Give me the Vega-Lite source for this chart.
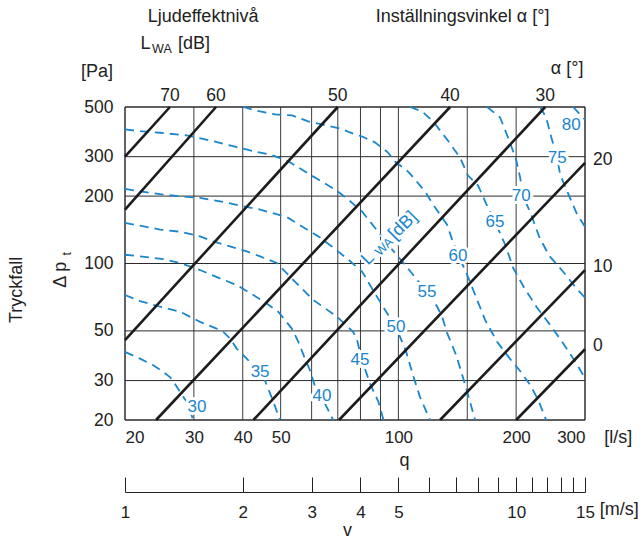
{
  "$schema": "https://vega.github.io/schema/vega-lite/v6.json",
  "width": 460,
  "height": 313,
  "autosize": {"type": "none"},
  "padding": {"left": 125, "top": 107, "right": 58, "bottom": 120},
  "background": "white",
  "config": {"view": {"stroke": null}, "font": "Liberation Sans", "text": {"font": "Liberation Sans"}},
  "datasets": {
    "gridV": [{"q": 20}, {"q": 30}, {"q": 40}, {"q": 50}, {"q": 60}, {"q": 70}, {"q": 80}, {"q": 90}, {"q": 100}, {"q": 150}, {"q": 200}, {"q": 300}],
    "gridH": [{"p": 20}, {"p": 30}, {"p": 50}, {"p": 100}, {"p": 200}, {"p": 300}, {"p": 500}],
    "alpha": [
      {"a": "70", "q": 20, "p": 300}, {"a": "70", "q": 26.06, "p": 500},
      {"a": "60", "q": 20, "p": 174.1}, {"a": "60", "q": 34.18, "p": 500},
      {"a": "50", "q": 20, "p": 45.46}, {"a": "50", "q": 69.98, "p": 500},
      {"a": "40", "q": 24.01, "p": 20}, {"a": "40", "q": 135.6, "p": 500},
      {"a": "30", "q": 42.58, "p": 20}, {"a": "30", "q": 237.3, "p": 500},
      {"a": "20", "q": 70.5, "p": 20}, {"a": "20", "q": 300, "p": 281.5},
      {"a": "10", "q": 127.8, "p": 20}, {"a": "10", "q": 300, "p": 93.5},
      {"a": "0", "q": 200, "p": 20}, {"a": "0", "q": 300, "p": 41.4}
    ],
    "alphaTop": [{"t": "70", "q": 26.06, "p": 500}, {"t": "60", "q": 34.18, "p": 500}, {"t": "50", "q": 69.98, "p": 500}, {"t": "40", "q": 135.6, "p": 500}, {"t": "30", "q": 237.3, "p": 500}],
    "alphaRight": [{"t": "20", "q": 300, "p": 281.5}, {"t": "10", "q": 300, "p": 93.5}, {"t": "0", "q": 300, "p": 41.4}],
    "curves": [
      {"c": "30", "i": 0, "q": 20, "p": 40.3}, {"c": "30", "i": 1, "q": 21.84, "p": 37.6}, {"c": "30", "i": 2, "q": 23.62, "p": 35.1}, {"c": "30", "i": 3, "q": 25.06, "p": 32.8}, {"c": "30", "i": 4, "q": 26.06, "p": 31.1}, {"c": "30", "i": 5, "q": 26.48, "p": 30.1}, {"c": "30", "i": 6, "q": 27.65, "p": 26.7}, {"c": "30", "i": 7, "q": 28.75, "p": 24.1}, {"c": "30", "i": 8, "q": 29.9, "p": 20},
      {"c": "35", "i": 0, "q": 20, "p": 72.3}, {"c": "35", "i": 1, "q": 21.84, "p": 67.9}, {"c": "35", "i": 2, "q": 24.6, "p": 64.1}, {"c": "35", "i": 3, "q": 27.65, "p": 60.9}, {"c": "35", "i": 4, "q": 31.1, "p": 54.9}, {"c": "35", "i": 5, "q": 34.3, "p": 51.2}, {"c": "35", "i": 6, "q": 35.7, "p": 49.5}, {"c": "35", "i": 7, "q": 37.1, "p": 46.2}, {"c": "35", "i": 8, "q": 38.6, "p": 41.7}, {"c": "35", "i": 9, "q": 40.96, "p": 37.6}, {"c": "35", "i": 10, "q": 45.3, "p": 30.8}, {"c": "35", "i": 11, "q": 47.7, "p": 24.6}, {"c": "35", "i": 12, "q": 49.8, "p": 20},
      {"c": "40", "i": 0, "q": 20, "p": 109.4}, {"c": "40", "i": 1, "q": 21.84, "p": 107.6}, {"c": "40", "i": 2, "q": 25.06, "p": 104.7}, {"c": "40", "i": 3, "q": 27.65, "p": 100.5}, {"c": "40", "i": 4, "q": 31.1, "p": 93.5}, {"c": "40", "i": 5, "q": 34.99, "p": 85.8}, {"c": "40", "i": 6, "q": 38.6, "p": 80.1}, {"c": "40", "i": 7, "q": 42.58, "p": 72.3}, {"c": "40", "i": 8, "q": 46.06, "p": 66.3}, {"c": "40", "i": 9, "q": 49.3, "p": 60.9}, {"c": "40", "i": 10, "q": 53.4, "p": 51.2}, {"c": "40", "i": 11, "q": 55.5, "p": 44.7}, {"c": "40", "i": 12, "q": 57.7, "p": 37.6}, {"c": "40", "i": 13, "q": 59.4, "p": 33.4}, {"c": "40", "i": 14, "q": 62.3, "p": 25.6}, {"c": "40", "i": 15, "q": 64.9, "p": 23.7}, {"c": "40", "i": 16, "q": 68.1, "p": 20},
      {"c": "45", "i": 0, "q": 20, "p": 151.8}, {"c": "45", "i": 1, "q": 21.84, "p": 147.6}, {"c": "45", "i": 2, "q": 24.6, "p": 141.7}, {"c": "45", "i": 3, "q": 27.65, "p": 138.7}, {"c": "45", "i": 4, "q": 31.1, "p": 132.2}, {"c": "45", "i": 5, "q": 33.6, "p": 125.6}, {"c": "45", "i": 6, "q": 37.1, "p": 119.2}, {"c": "45", "i": 7, "q": 40.96, "p": 113.2}, {"c": "45", "i": 8, "q": 44.3, "p": 107.6}, {"c": "45", "i": 9, "q": 48.9, "p": 100.5}, {"c": "45", "i": 10, "q": 53.8, "p": 84.6}, {"c": "45", "i": 11, "q": 60.5, "p": 68.9}, {"c": "45", "i": 12, "q": 69.7, "p": 57.8}, {"c": "45", "i": 13, "q": 76.6, "p": 49.5}, {"c": "45", "i": 14, "q": 78.4, "p": 45.6}, {"c": "45", "i": 15, "q": 80.8, "p": 36.7}, {"c": "45", "i": 16, "q": 84.7, "p": 29.0}, {"c": "45", "i": 17, "q": 88.9, "p": 24.1}, {"c": "45", "i": 18, "q": 91.6, "p": 20},
      {"c": "50", "i": 0, "q": 20, "p": 215.4}, {"c": "50", "i": 1, "q": 21.84, "p": 210.2}, {"c": "50", "i": 2, "q": 25.06, "p": 203.1}, {"c": "50", "i": 3, "q": 28.75, "p": 198.3}, {"c": "50", "i": 4, "q": 31.1, "p": 196.3}, {"c": "50", "i": 5, "q": 34.99, "p": 189.5}, {"c": "50", "i": 6, "q": 39.4, "p": 181.4}, {"c": "50", "i": 7, "q": 44.3, "p": 174.1}, {"c": "50", "i": 8, "q": 49.3, "p": 165.3}, {"c": "50", "i": 9, "q": 52.3, "p": 159.8}, {"c": "50", "i": 10, "q": 56.6, "p": 146.6}, {"c": "50", "i": 11, "q": 62.4, "p": 132.2}, {"c": "50", "i": 12, "q": 67.6, "p": 119.2}, {"c": "50", "i": 13, "q": 74.5, "p": 104}, {"c": "50", "i": 14, "q": 80.8, "p": 91.9}, {"c": "50", "i": 15, "q": 87.2, "p": 73.3}, {"c": "50", "i": 16, "q": 94.1, "p": 59.0}, {"c": "50", "i": 17, "q": 98.6, "p": 52.1}, {"c": "50", "i": 18, "q": 104.7, "p": 40.3}, {"c": "50", "i": 19, "q": 109.1, "p": 31.5}, {"c": "50", "i": 20, "q": 113.6, "p": 25.3}, {"c": "50", "i": 21, "q": 120.5, "p": 20},
      {"c": "55", "i": 0, "q": 20, "p": 396.8}, {"c": "55", "i": 1, "q": 21.84, "p": 390}, {"c": "55", "i": 2, "q": 24.6, "p": 383.7}, {"c": "55", "i": 3, "q": 28.75, "p": 373.1}, {"c": "55", "i": 4, "q": 33.6, "p": 351.8}, {"c": "55", "i": 5, "q": 37.8, "p": 334}, {"c": "55", "i": 6, "q": 42.58, "p": 317.3}, {"c": "55", "i": 7, "q": 46.98, "p": 306.8}, {"c": "55", "i": 8, "q": 52.3, "p": 286.3}, {"c": "55", "i": 9, "q": 56.6, "p": 262.9}, {"c": "55", "i": 10, "q": 62.4, "p": 237.1}, {"c": "55", "i": 11, "q": 68.9, "p": 213.9}, {"c": "55", "i": 12, "q": 74.5, "p": 192.8}, {"c": "55", "i": 13, "q": 80.8, "p": 170.4}, {"c": "55", "i": 14, "q": 88.7, "p": 138.7}, {"c": "55", "i": 15, "q": 96.4, "p": 115.3}, {"c": "55", "i": 16, "q": 104.0, "p": 98.8}, {"c": "55", "i": 17, "q": 111.6, "p": 84.6}, {"c": "55", "i": 18, "q": 118.4, "p": 74.8}, {"c": "55", "i": 19, "q": 125.7, "p": 64.1}, {"c": "55", "i": 20, "q": 129.4, "p": 57.8}, {"c": "55", "i": 21, "q": 133.2, "p": 49.0}, {"c": "55", "i": 22, "q": 140.4, "p": 39.1}, {"c": "55", "i": 23, "q": 146.4, "p": 30.8}, {"c": "55", "i": 24, "q": 150.7, "p": 25.9}, {"c": "55", "i": 25, "q": 157.1, "p": 20},
      {"c": "60", "i": 0, "q": 40.06, "p": 500}, {"c": "60", "i": 1, "q": 44.3, "p": 477.6}, {"c": "60", "i": 2, "q": 48.4, "p": 463}, {"c": "60", "i": 3, "q": 53.5, "p": 458.3}, {"c": "60", "i": 4, "q": 58.8, "p": 430.9}, {"c": "60", "i": 5, "q": 63.8, "p": 417.8}, {"c": "60", "i": 6, "q": 70.9, "p": 400.9}, {"c": "60", "i": 7, "q": 75.2, "p": 384.8}, {"c": "60", "i": 8, "q": 80.8, "p": 369}, {"c": "60", "i": 9, "q": 87.2, "p": 347.2}, {"c": "60", "i": 10, "q": 94.1, "p": 313.1}, {"c": "60", "i": 11, "q": 98.0, "p": 285.4}, {"c": "60", "i": 12, "q": 105.9, "p": 257.4}, {"c": "60", "i": 13, "q": 110.3, "p": 237.1}, {"c": "60", "i": 14, "q": 117.0, "p": 209.4}, {"c": "60", "i": 15, "q": 122.7, "p": 183.3}, {"c": "60", "i": 16, "q": 133.2, "p": 149.1}, {"c": "60", "i": 17, "q": 137.2, "p": 127.8}, {"c": "60", "i": 18, "q": 142.1, "p": 108.3}, {"c": "60", "i": 19, "q": 148.1, "p": 93.8}, {"c": "60", "i": 20, "q": 157.1, "p": 72.5}, {"c": "60", "i": 21, "q": 166.6, "p": 56.0}, {"c": "60", "i": 22, "q": 178.8, "p": 44.7}, {"c": "60", "i": 23, "q": 193.0, "p": 37.5}, {"c": "60", "i": 24, "q": 204.8, "p": 33.1}, {"c": "60", "i": 25, "q": 217.2, "p": 28.7}, {"c": "60", "i": 26, "q": 227.7, "p": 24.6}, {"c": "60", "i": 27, "q": 238.7, "p": 20},
      {"c": "65", "i": 0, "q": 107.1, "p": 500}, {"c": "65", "i": 1, "q": 115.0, "p": 477.6}, {"c": "65", "i": 2, "q": 122.7, "p": 430.9}, {"c": "65", "i": 3, "q": 133.2, "p": 357.9}, {"c": "65", "i": 4, "q": 143.8, "p": 297.3}, {"c": "65", "i": 5, "q": 150.7, "p": 247.0}, {"c": "65", "i": 6, "q": 159.9, "p": 222.9}, {"c": "65", "i": 7, "q": 167.6, "p": 185.1}, {"c": "65", "i": 8, "q": 176.6, "p": 153.8}, {"c": "65", "i": 9, "q": 187.5, "p": 121.4}, {"c": "65", "i": 10, "q": 196.5, "p": 95.7}, {"c": "65", "i": 11, "q": 209.7, "p": 77.9}, {"c": "65", "i": 12, "q": 226.3, "p": 63.4}, {"c": "65", "i": 13, "q": 244.3, "p": 53.2}, {"c": "65", "i": 14, "q": 262.2, "p": 44.7}, {"c": "65", "i": 15, "q": 281.4, "p": 37.1}, {"c": "65", "i": 16, "q": 300, "p": 30.8},
      {"c": "70", "i": 0, "q": 168.6, "p": 500}, {"c": "70", "i": 1, "q": 182.0, "p": 449.0}, {"c": "70", "i": 2, "q": 190.7, "p": 365.2}, {"c": "70", "i": 3, "q": 200, "p": 291.2}, {"c": "70", "i": 4, "q": 204.8, "p": 242.0}, {"c": "70", "i": 5, "q": 208.4, "p": 200.5}, {"c": "70", "i": 6, "q": 218.5, "p": 165.3}, {"c": "70", "i": 7, "q": 229.0, "p": 131.8}, {"c": "70", "i": 8, "q": 242.9, "p": 108.3}, {"c": "70", "i": 9, "q": 263.8, "p": 91.9}, {"c": "70", "i": 10, "q": 283.1, "p": 78.7}, {"c": "70", "i": 11, "q": 300, "p": 70.3},
      {"c": "75", "i": 0, "q": 230.3, "p": 500}, {"c": "75", "i": 1, "q": 238.7, "p": 449.0}, {"c": "75", "i": 2, "q": 245.7, "p": 369}, {"c": "75", "i": 3, "q": 254.6, "p": 297.3}, {"c": "75", "i": 4, "q": 259.2, "p": 249.6}, {"c": "75", "i": 5, "q": 273.2, "p": 200.5}, {"c": "75", "i": 6, "q": 286.5, "p": 165.3}, {"c": "75", "i": 7, "q": 300, "p": 146.1},
      {"c": "80", "i": 0, "q": 279.8, "p": 500}, {"c": "80", "i": 1, "q": 289.8, "p": 467.8}, {"c": "80", "i": 2, "q": 300, "p": 439.8}
    ],
    "curveLabels": [
      {"t": "30", "q": 30.55, "p": 22.86}, {"t": "35", "q": 44.3, "p": 32.8}, {"t": "40", "q": 63.8, "p": 25.6}, {"t": "45", "q": 79.8, "p": 37.1}, {"t": "50", "q": 98.6, "p": 52.1}, {"t": "55", "q": 118.4, "p": 74.8}, {"t": "60", "q": 142.1, "p": 108.3}, {"t": "65", "q": 176.6, "p": 153.8}, {"t": "70", "q": 206.0, "p": 200.5}, {"t": "75", "q": 254.6, "p": 297.3}, {"t": "80", "q": 276.6, "p": 413.5}
    ],
    "lwaBig": [{"t": "L", "q": 83.6, "p": 105.1}, {"t": "[dB]", "q": 102.8, "p": 147.6}],
    "lwaSmall": [{"t": "WA", "q": 91.9, "p": 118.9}],
    "annot": [
      {"t": "Ljudeffektnivå", "q": 31.66, "p": 1258},
      {"t": "Inställningsvinkel  α [°]", "q": 145.9, "p": 1258},
      {"t": "L", "q": 22.55, "p": 953},
      {"t": "[dB]", "q": 30.03, "p": 953},
      {"t": "[Pa]", "q": 16.96, "p": 714},
      {"t": "α [°]", "q": 270, "p": 736},
      {"t": "[l/s]", "q": 364.7, "p": 16.6},
      {"t": "[m/s]", "q": 366.8, "p": 7.92}
    ],
    "annotSmall": [{"t": "WA", "q": 24.85, "p": 905}],
    "annotRot": [{"t": "Tryckfall", "q": 10.59, "p": 76.3}, {"t": "Δ p", "q": 13.72, "p": 89.1}],
    "annotRotSmall": [{"t": "t", "q": 14.22, "p": 110.6}],
    "vel": [{"v": 1}, {"v": 15}]
  },
  "layer": [
    {
      "layer": [
        {
          "data": {"name": "gridV"},
          "mark": {"type": "rule", "color": "#3c3c3c"},
          "encoding": {
            "x": {"field": "q", "type": "quantitative", "scale": {"type": "log", "domain": [20, 300], "nice": false},
              "axis": {"values": [20, 30, 40, 50, 100, 200, 300], "labelExpr": "'' + datum.value", "grid": false, "ticks": false, "domain": false, "labelFontSize": 17, "labelColor": "#222", "labelPadding": 9, "labelFont": "Liberation Sans",
                "title": "q", "titleFontSize": 18, "titleFontWeight": "normal", "titleColor": "#222", "titleFont": "Liberation Sans", "titleX": 279, "titleY": 40, "titleBaseline": "middle", "titleAlign": "center"}},
            "strokeWidth": {"condition": {"test": "datum.q == 20 || datum.q == 300", "value": 1.6}, "value": 1}
          }
        },
        {
          "data": {"name": "gridH"},
          "mark": {"type": "rule", "color": "#2a2a2a"},
          "encoding": {
            "y": {"field": "p", "type": "quantitative", "scale": {"type": "log", "domain": [20, 500], "nice": false},
              "axis": {"values": [20, 30, 50, 100, 200, 300, 500], "labelExpr": "'' + datum.value", "grid": false, "ticks": false, "domain": false, "labelFontSize": 17.5, "labelColor": "#222", "labelPadding": 12, "labelFont": "Liberation Sans", "title": null}},
            "strokeWidth": {"condition": {"test": "datum.p == 20 || datum.p == 500", "value": 1.6}, "value": 1}
          }
        },
        {
          "data": {"name": "curves"},
          "mark": {"type": "line", "color": "#1a86cc", "strokeWidth": 1.8, "strokeDash": [9, 6]},
          "encoding": {
            "x": {"field": "q", "type": "quantitative"},
            "y": {"field": "p", "type": "quantitative"},
            "detail": {"field": "c"},
            "order": {"field": "i", "type": "quantitative"}
          }
        },
        {
          "data": {"name": "alpha"},
          "mark": {"type": "line", "color": "#1c1c1c", "strokeWidth": 2.6},
          "encoding": {
            "x": {"field": "q", "type": "quantitative"},
            "y": {"field": "p", "type": "quantitative"},
            "detail": {"field": "a"}
          }
        },
        {
          "data": {"name": "curveLabels"},
          "mark": {"type": "text", "fontSize": 17, "stroke": "white", "strokeWidth": 6, "fill": "white", "align": "center", "baseline": "middle"},
          "encoding": {"x": {"field": "q", "type": "quantitative"}, "y": {"field": "p", "type": "quantitative"}, "text": {"field": "t"}}
        },
        {
          "data": {"name": "curveLabels"},
          "mark": {"type": "text", "fontSize": 17, "fill": "#1a86cc", "align": "center", "baseline": "middle"},
          "encoding": {"x": {"field": "q", "type": "quantitative"}, "y": {"field": "p", "type": "quantitative"}, "text": {"field": "t"}}
        },
        {
          "data": {"name": "lwaBig"},
          "mark": {"type": "text", "fontSize": 18, "stroke": "white", "strokeWidth": 5, "fill": "white", "align": "center", "baseline": "middle", "angle": 315},
          "encoding": {"x": {"field": "q", "type": "quantitative"}, "y": {"field": "p", "type": "quantitative"}, "text": {"field": "t"}}
        },
        {
          "data": {"name": "lwaSmall"},
          "mark": {"type": "text", "fontSize": 12.5, "stroke": "white", "strokeWidth": 5, "fill": "white", "align": "center", "baseline": "middle", "angle": 315},
          "encoding": {"x": {"field": "q", "type": "quantitative"}, "y": {"field": "p", "type": "quantitative"}, "text": {"field": "t"}}
        },
        {
          "data": {"name": "lwaBig"},
          "mark": {"type": "text", "fontSize": 18, "fill": "#1a86cc", "align": "center", "baseline": "middle", "angle": 315},
          "encoding": {"x": {"field": "q", "type": "quantitative"}, "y": {"field": "p", "type": "quantitative"}, "text": {"field": "t"}}
        },
        {
          "data": {"name": "lwaSmall"},
          "mark": {"type": "text", "fontSize": 12.5, "fill": "#1a86cc", "align": "center", "baseline": "middle", "angle": 315},
          "encoding": {"x": {"field": "q", "type": "quantitative"}, "y": {"field": "p", "type": "quantitative"}, "text": {"field": "t"}}
        },
        {
          "data": {"name": "alphaTop"},
          "mark": {"type": "text", "fontSize": 17.5, "fill": "#222", "align": "center", "baseline": "alphabetic", "dy": -6},
          "encoding": {"x": {"field": "q", "type": "quantitative"}, "y": {"field": "p", "type": "quantitative"}, "text": {"field": "t"}}
        },
        {
          "data": {"name": "alphaRight"},
          "mark": {"type": "text", "fontSize": 17.5, "fill": "#222", "align": "left", "baseline": "middle", "dx": 8, "dy": -3},
          "encoding": {"x": {"field": "q", "type": "quantitative"}, "y": {"field": "p", "type": "quantitative"}, "text": {"field": "t"}}
        },
        {
          "data": {"name": "annot"},
          "mark": {"type": "text", "fontSize": 18, "fill": "#222", "align": "center", "baseline": "middle"},
          "encoding": {"x": {"field": "q", "type": "quantitative"}, "y": {"field": "p", "type": "quantitative"}, "text": {"field": "t"}}
        },
        {
          "data": {"name": "annotSmall"},
          "mark": {"type": "text", "fontSize": 12.5, "fill": "#222", "align": "center", "baseline": "middle"},
          "encoding": {"x": {"field": "q", "type": "quantitative"}, "y": {"field": "p", "type": "quantitative"}, "text": {"field": "t"}}
        },
        {
          "data": {"name": "annotRot"},
          "mark": {"type": "text", "fontSize": 18, "fill": "#222", "align": "center", "baseline": "middle", "angle": 270},
          "encoding": {"x": {"field": "q", "type": "quantitative"}, "y": {"field": "p", "type": "quantitative"}, "text": {"field": "t"}}
        },
        {
          "data": {"name": "annotRotSmall"},
          "mark": {"type": "text", "fontSize": 12.5, "fill": "#222", "align": "center", "baseline": "middle", "angle": 270},
          "encoding": {"x": {"field": "q", "type": "quantitative"}, "y": {"field": "p", "type": "quantitative"}, "text": {"field": "t"}}
        }
      ]
    },
    {
      "data": {"name": "vel"},
      "mark": {"type": "point", "opacity": 0},
      "encoding": {
        "x": {"field": "v", "type": "quantitative", "scale": {"type": "log", "domain": [1, 15], "nice": false},
          "axis": {"orient": "bottom", "offset": 72, "values": [1, 2, 3, 4, 5, 6, 7, 8, 9, 10, 11, 12, 13, 14, 15],
            "labelExpr": "(datum.value <= 5 || datum.value == 10 || datum.value == 15) ? '' + datum.value : ''",
            "grid": false, "tickSize": -15, "tickColor": "#222", "tickWidth": 1, "domainColor": "#222", "domainWidth": 1,
            "labelFontSize": 17, "labelColor": "#222", "labelPadding": 27, "labelFont": "Liberation Sans", "labelFlush": false, "labelOverlap": false,
            "title": "v", "titleFontSize": 18, "titleFontWeight": "normal", "titleColor": "#222", "titleFont": "Liberation Sans", "titleX": 222, "titleY": 38, "titleBaseline": "middle", "titleAlign": "center"}}
      }
    }
  ],
  "resolve": {"scale": {"x": "independent"}, "axis": {"x": "independent"}}
}
